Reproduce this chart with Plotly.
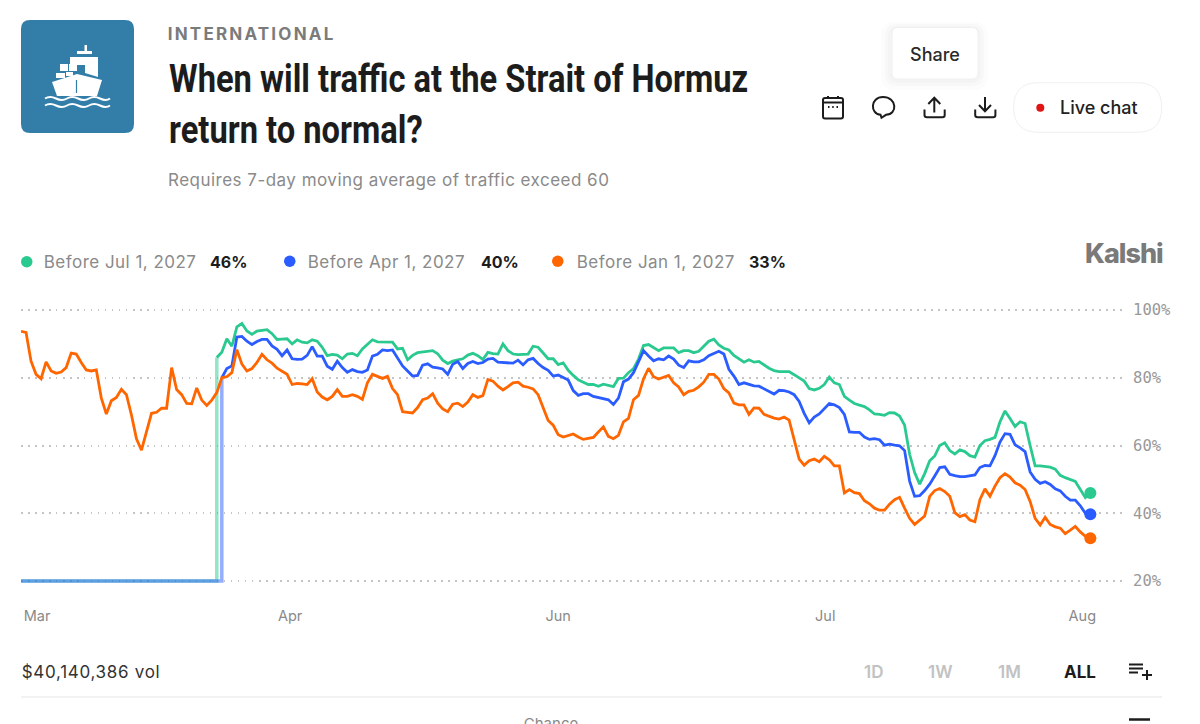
import plotly.graph_objects as go

# values in %, one sample per grid step of the time axis
green_start = 39
green_jul_2027 = [
    86, 87.5, 91.5, 89.3, 95, 96, 93.8, 92.8, 93.8, 94, 94.2, 93, 91.3, 91.4, 91.5, 90, 91.2, 90.5, 90.3, 91.2,
    90.8, 89, 86.5, 86.9, 86.7, 85.6, 87, 87.2, 86.5, 88.5, 90, 91.2, 90.6, 90.5, 90.6, 90.5, 88.5,
    88.7, 85.3, 86.6, 87.4, 87.6, 87.9, 88, 87.1, 85.2, 84.2, 84.9, 85.3, 85.6, 86.7, 87.2, 86.5, 85.4, 87.5, 87.1,
    87, 90, 88, 87, 86.8, 86.8, 87, 89.3, 89, 87.3, 85.6, 85.6, 83.9, 84.4, 82.2, 80.7, 79.4, 78.7, 78, 78,
    77.5, 78.1, 77.7, 77.4, 79.8, 79.9, 81.5, 82.7, 85.5, 89.5, 89.8, 88.9, 88, 88.8, 88.8, 88.8, 87.4, 88, 88, 87.4,
    87.8, 89.2, 90.8, 91.4, 89.7, 88.7, 88.2, 86.6, 85.5, 84.6, 85.3, 84.6, 84.8, 83.8, 82.8, 82.1, 81.8, 81.8, 81.8,
    80.9, 80,
    79, 76.8, 76.4, 76.9, 78, 80.2, 78.5, 78, 74.5, 73.4, 72.4, 71.9, 71.5, 70.5, 69.3, 69.2, 68.9, 69.7, 69.6, 68.7,
    66, 57.4, 52, 48.6, 51.7, 55.5, 56.9, 60, 60.8, 58.5, 57.5, 58.7, 58.2, 57, 56.6, 60, 61.4, 61.8, 62.4, 67, 70.2,
    68, 65.6, 67, 66.5, 60, 54, 54, 53.8, 53.6, 53, 51.2, 50.5, 50, 49.4, 47, 44.6, 46,
]
blue_start = 40
blue_apr_2027 = [
    80, 82.7, 83.5, 92, 92.2, 90.8, 89.8, 90.7, 91.3, 91.3, 89.4, 88.4, 86.5, 88.2, 85.6, 85.4, 85.5, 86.6, 89.2,
    86.4, 86.4, 83.4, 82.5, 84.9, 83, 81.6, 82.4, 81.8, 81.6, 82.3, 86.4, 86.9, 88.2, 88, 88.2, 85.8,
    83.5, 82, 80.5, 80.7, 83.7, 84.1, 83.1, 82.9, 82.6, 81, 84, 84.8, 82.7, 84.2, 84.8, 84.2, 84.5, 85.5, 85.7, 84.6,
    84.5, 84.4, 84.3, 85.2, 83.8, 85.3, 85.7, 84.2, 83, 82.2, 80.5, 80.8, 80, 79.3, 76.2, 74.8, 75.3, 75.3, 74.5, 74.2,
    74, 73.5, 72.1, 74, 78.8, 79.6, 81.5, 85, 88, 86.4, 85, 85.6, 85.3, 86.4, 85.5, 83.7, 83, 85, 84.7, 84.7,
    85.3, 86.5, 87.1, 87.8, 87, 82.5, 80.5, 78, 78.5, 78, 77.6, 77.5, 76.8, 75.9, 75.2, 76.3, 76.2, 75.8, 75, 73,
    69.5, 66.7, 68.4, 69.3, 71, 72.4, 72, 71.2, 69.2, 64, 63.9, 63.9, 62.5, 61.8, 62, 61.7, 60.1, 60.4, 60.1, 59.9,
    58.5, 49.5, 45, 45.2, 46.7, 48.6, 51, 53.5, 53.7, 51.5, 51.1, 50.8, 50.8, 51, 51.3, 53.5, 54.1, 54, 57, 61, 63.5,
    63.3, 60.2, 59.3, 58.2, 52.2, 50, 48.8, 49.3, 48.5, 47.2, 46.6, 45, 43.9, 43.9, 42.2, 40, 39.7,
]
orange_jan_2027 = [
    93.7, 93.4, 84.9, 81, 79.7, 84.7, 82, 81.3, 81.7, 83, 87.3, 87, 84.5, 82.3, 82, 82.3, 74, 69.3, 73.2, 74.2,
    76.6, 75, 69, 62, 58.6, 64, 69.5, 69.8, 71, 71, 83, 76.5, 75, 72.4, 72.3, 77, 73.4, 71.8, 73.4, 75.6,
    80, 80.3, 81.5, 88.3, 84, 82, 82.7, 84.5, 86.9, 85.3, 84.3, 82.8, 82, 81, 78, 78.3, 78.2, 78, 79.7, 75.8,
    74.3, 73.5, 74.5, 76.5, 74.5, 74.5, 75, 74.5, 73.6, 78.5, 81, 80.5, 79.8, 80.4, 76.8, 75,
    70, 69.8, 69.6, 71.2, 73.5, 74, 75.3, 72.5, 70.8, 70, 72.2, 72.5, 71.5, 72.8, 75, 74.2, 74.7, 79.5, 79, 77.5,
    76.4, 77.4, 78.5, 78.7, 77.5, 77.2, 76.7, 75, 71, 67.4, 66, 63.2, 62.5, 63, 63.4, 62.5, 61.8, 62.1, 62.4, 64,
    65.5, 62.7, 62, 63, 67, 68, 73.5, 74.8, 79.7, 82.8, 80.3, 79.6, 80.2, 80.7, 78.5, 77.3, 75, 76, 76.3, 77.3,
    78.7, 81, 81, 79.6, 76.8, 75.5, 72.5, 72, 72, 69.2, 71.1, 71, 69.2, 68.6, 68.1, 67.8, 68.4, 67.5, 61.5, 56,
    54.2, 55.5, 56, 55.2, 56.8, 55.8, 54, 54, 46, 47, 46.1, 45.8, 43.7, 42.8, 41.5, 40.9, 40.9, 42.7, 44, 44.7,
    41.5, 38.5, 36.7, 38, 39.2, 45, 46.7, 47.3, 46.4, 45, 40.2, 39, 39.6, 38, 37.5, 44, 47.2, 45, 48, 50.5, 51.7,
    50.7, 49, 48.3, 47, 43.5, 38.5, 36.5, 38.8, 36.7, 36, 35.6, 34, 35, 36.1, 34.5, 33.2, 32.6,
]
floor_value = 20

y_ticks = [20, 40, 60, 80, 100]
y_labels = ['20%', '40%', '60%', '80%', '100%']
month_ticks = [3.2, 53.6, 107, 160.2, 211.4]
month_labels = ['Mar', 'Apr', 'Jun', 'Jul', 'Aug']

legend_names = ['Before Jul 1, 2027', 'Before Apr 1, 2027', 'Before Jan 1, 2027']
legend_values = ['46%', '40%', '33%']
range_buttons = ['1D', '1W', '1M']

GREEN = '#2ac98f'
BLUE = '#2a5cff'
ORANGE = '#ff6600'
DARK = '#1c1c1c'
SANS = 'Inter'

# no condensed face is installed and plotly has no letter spacing, so both are set on the svg text
POST_SCRIPT = """
document.body.style.margin = '0';
var spacing = {'Before': '0.47px', 'Requires': '0.48px', 'INTERNATIONAL': '2.2px', 'Kalshi': '-1px', '$40': '0.7px'};
setTimeout(function () {
  document.querySelectorAll('.annotation-text').forEach(function (t) {
    var s = t.textContent;
    if (s.indexOf('When will') === 0 || s.indexOf('return to') === 0) {
      t.style.transformBox = 'fill-box';
      t.style.transformOrigin = 'left center';
      t.style.transform = 'scaleX(0.838)';
    }
    Object.keys(spacing).forEach(function (k) {
      if (s.indexOf(k) === 0) t.style.letterSpacing = spacing[k];
    });
  });
}, 0);
"""


def add_series(fig, values, start, color, name):
    xs = list(range(start, start + len(values)))
    fig.add_trace(go.Scatter(x=xs, y=values, mode='lines', name=name, line=dict(color=color, width=2.8)))
    fig.add_trace(go.Scatter(x=xs[-1:], y=values[-1:], mode='markers', marker=dict(color=color, size=12)))


def add_launch_step(fig, first_value, start, color):
    fig.add_trace(go.Scatter(x=[0, start, start], y=[floor_value, floor_value, first_value], mode='lines',
                             line=dict(color=color, width=3.5)))


def px_shape(kind='path', line=None, lw=0, fill=None, **kw):
    # everything outside the plot is laid out on a pixel overlay (x2/y2)
    d = dict(type=kind, xref='x2', yref='y2', line=dict(color=line or 'rgba(0,0,0,0)', width=lw), layer='above')
    if fill:
        d['fillcolor'] = fill
    d.update(kw)
    return d


def rounded(x0, y0, x1, y1, r):
    return (f'M{x0 + r},{y0} L{x1 - r},{y0} Q{x1},{y0} {x1},{y0 + r} L{x1},{y1 - r} Q{x1},{y1} {x1 - r},{y1} '
            f'L{x0 + r},{y1} Q{x0},{y1} {x0},{y1 - r} L{x0},{y0 + r} Q{x0},{y0} {x0 + r},{y0} Z')


def label(text, x, y, size, color, anchor='left', weight=400, family=SANS):
    return dict(text=text, x=x, y=y, xref='x2', yref='y2', xanchor=anchor, yanchor='middle', showarrow=False,
                borderpad=0, font=dict(family=family, size=size, color=color, weight=weight))


def wave(y):
    return f'M45,{y} Q50,{y - 3} 56,{y} T67,{y} T78,{y} T89,{y} T100,{y} T110,{y}'


fig = go.Figure()
add_launch_step(fig, green_jul_2027[0], green_start, 'rgba(42,201,143,0.5)')
add_launch_step(fig, blue_apr_2027[0], blue_start, 'rgba(42,92,255,0.5)')
add_series(fig, green_jul_2027, green_start, GREEN, legend_names[0])
add_series(fig, blue_apr_2027, blue_start, BLUE, legend_names[1])
add_series(fig, orange_jan_2027, 0, ORANGE, legend_names[2])
# cut by the bottom of the window, so it has to clip on the axis instead of being an annotation
fig.add_trace(go.Scatter(x=[551], y=[725.5], xaxis='x2', yaxis='y2', mode='text', text=['Chance'],
                         textfont=dict(family=SANS, size=15, color='#8a8a8a')))

shapes = [
    # ship badge
    px_shape(path=rounded(21, 20, 134, 133, 9), fill='#337ea9'),
    px_shape(path='M52,82 L77,74 L102,80 L97,96 L57,96 Z', fill='white'),
    px_shape(path='M70,57 L98,57 L98,77 L85,73 L85,65 L70,65 Z', fill='white'),
    px_shape(path='M77,51 L92,51 L92,54 L77,54 Z', fill='white'),
    px_shape(path='M84.5,45 L87,45 L87,52 L84.5,52 Z', fill='white'),
    px_shape(path='M60,64 L68,64 L68,71 L60,71 Z', fill='white'),
    px_shape(path='M69,64 L77,64 L77,71 L69,71 Z', fill='white'),
    px_shape(path='M56,73 L65,73 L65,78 L56,78 Z', fill='white'),
    px_shape(path='M66,72 L73,72 L73,76 L66,76 Z', fill='white'),
    px_shape(path='M76.5,80 L76.5,93', line='#337ea9', lw=1.2),
    px_shape(path=wave(98.5), line='white', lw=2),
    px_shape(path=wave(105.5), line='white', lw=2),
    # share tooltip, soft shadow first
    px_shape(path=rounded(881, 22, 988, 90, 14), fill='rgba(0,0,0,0.012)'),
    px_shape(path=rounded(885, 24, 984, 86, 12), fill='rgba(0,0,0,0.014)'),
    px_shape(path=rounded(888, 26, 981, 83, 10), fill='rgba(0,0,0,0.016)'),
    px_shape(path=rounded(892, 27.5, 978, 79, 6), fill='white', line='#f0f0f0', lw=1),
    # calendar
    px_shape(path=rounded(823, 98, 843, 118.5, 2), line=DARK, lw=2),
    px_shape(path='M823,102.5 L843,102.5', line=DARK, lw=2),
    px_shape(path='M828,96 L828,99 M838,96 L838,99', line=DARK, lw=2),
    px_shape(path='M828,107 L829.5,107 M832.2,107 L833.7,107 M836.5,107 L838,107', line=DARK, lw=2),
    # comment bubble
    px_shape(path='M880.5,114.8 C870,114 870,97 883,97 C897,97 898,114.5 886,114.8 L881.5,117.8 Z', line=DARK, lw=2),
    # share and download
    px_shape(path='M934.3,112.5 L934.3,98 M928.3,104 L934.3,97.8 L940.3,104', line=DARK, lw=2),
    px_shape(path='M924.5,109.5 L924.5,115 Q924.5,117.2 927,117.2 L942.5,117.2 Q944.7,117.2 944.7,115 L944.7,109.5',
             line=DARK, lw=2),
    px_shape(path='M985,97 L985,111 M979,105 L985,111.2 L991,105', line=DARK, lw=2),
    px_shape(path='M975.2,109.5 L975.2,115 Q975.2,117.2 977.7,117.2 L993.2,117.2 Q995.4,117.2 995.4,115 L995.4,109.5',
             line=DARK, lw=2),
    # live chat pill
    px_shape(path=rounded(1013.7, 82.7, 1161.7, 132.3, 24.8), line='#f0f0f0', lw=1),
    px_shape(kind='circle', x0=1036.3, x1=1044.3, y0=103.7, y1=111.7, fill='#e01414'),
    # legend dots
    px_shape(kind='circle', x0=21, x1=32.5, y0=256, y1=267.5, fill=GREEN),
    px_shape(kind='circle', x0=284, x1=295.5, y0=255.5, y1=267, fill=BLUE),
    px_shape(kind='circle', x0=552, x1=563.5, y0=255.5, y1=267, fill=ORANGE),
    # footer
    px_shape(path='M1129,664.5 L1143,664.5 M1129,668.5 L1143,668.5 M1129,672.5 L1138,672.5', line=DARK, lw=2),
    px_shape(path='M1142,675 L1152,675 M1147,670 L1147,680', line=DARK, lw=2),
    px_shape(path='M21,697 L1162,697', line='#eeeeee', lw=1.5),
    px_shape(path='M1129,719.5 L1150,719.5', line=DARK, lw=2.5),
]

annotations = [
    label('INTERNATIONAL', 251.5, 34, 17, '#7b7b7b', anchor='center', weight=700),
    label('When will traffic at the Strait of Hormuz', 168, 79, 39, DARK, weight=700, family='Roboto'),
    label('return to normal?', 168, 130, 39, DARK, weight=700, family='Roboto'),
    label('Requires 7-day moving average of traffic exceed 60', 388.5, 180, 17, '#8a8a8a', anchor='center'),
    label('Share', 935, 54, 18, '#2a2a2a', anchor='center', weight=500),
    label('Live chat', 1059, 107.5, 18, '#222222', weight=500),
    label('Kalshi', 1124, 253, 27, '#7a7a7a', anchor='center', weight=800),
    label('$40,140,386 vol', 90.5, 672, 17, '#333333', anchor='center'),
    label('ALL', 1080, 672, 17, DARK, anchor='center', weight=700),
]
for name, value, name_x, value_x in zip(legend_names, legend_values, [120, 386, 656], [209, 480, 748]):
    annotations.append(label(name, name_x, 262, 17, '#8a8a8a', anchor='center'))
    annotations.append(label(value, value_x, 262, 16, DARK, weight=700))
for text, x in zip(range_buttons, [873, 940, 1009]):
    annotations.append(label(text, x, 672, 17, '#c2c2c2', anchor='center', weight=600))

fig.update_layout(
    width=1200, height=724, margin=dict(l=0, r=0, t=0, b=0, autoexpand=False),
    paper_bgcolor='white', plot_bgcolor='rgba(0,0,0,0)',
    showlegend=False, hovermode=False, shapes=shapes, annotations=annotations,
    xaxis=dict(domain=[21 / 1200, 1125 / 1200], range=[0, 219.9], tickvals=month_ticks, ticktext=month_labels,
               showgrid=False, zeroline=False, showline=False, ticks='outside', ticklen=18, tickcolor='rgba(0,0,0,0)',
               tickfont=dict(family=SANS, size=14.5, color='#8a8a8a')),
    # one unit of slack each way keeps the 100% and 20% grid lines and the full width of the floor line
    yaxis=dict(domain=[1 - 584.4 / 724, 1 - 306.6 / 724], range=[19, 101], side='right', tickvals=y_ticks,
               ticktext=y_labels, showgrid=True, griddash='1.5px,5.5px', gridcolor='#c4c4c4', gridwidth=1.5,
               zeroline=False, showline=False, ticks='outside', ticklen=4, tickcolor='rgba(0,0,0,0)',
               tickfont=dict(family='DejaVu Sans Mono', size=15.5, color='#999999')),
    xaxis2=dict(domain=[0, 1], range=[0, 1200], visible=False, anchor='y2', fixedrange=True),
    yaxis2=dict(domain=[0, 1], range=[724, 0], visible=False, anchor='x2', fixedrange=True),
)

fig.write_html('out.html', config={'displayModeBar': False}, post_script=POST_SCRIPT)
